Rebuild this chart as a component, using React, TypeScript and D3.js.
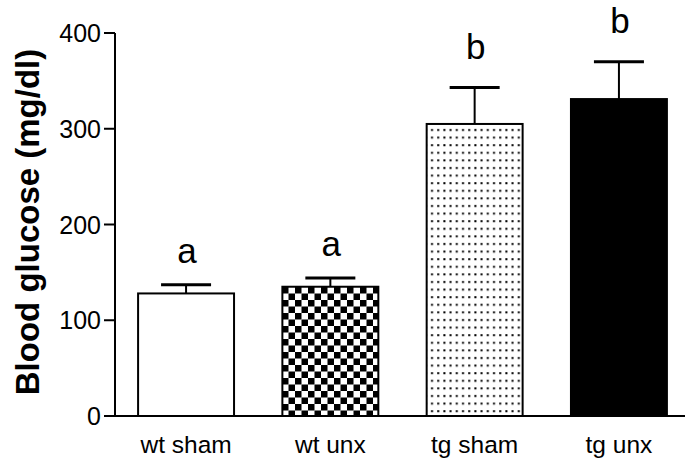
import React from "react";
import * as d3 from "d3";

// Group names, means, error (SEM) and significance letters
const groups = ["wt sham", "wt unx", "tg sham", "tg unx"];
const means = [128, 135, 305, 331];
const errors = [9, 9, 38, 39];
const letters = ["a", "a", "b", "b"];
const fills = ["white", "url(#checker)", "url(#dots)", "black"];
const yTicks = [0, 100, 200, 300, 400];

const W = 685;
const H = 459;
const axisX = 115;
const axisY0 = 416;
const axisTop = 33;

export default function App() {
  const y = d3.scaleLinear().domain([0, 400]).range([axisY0, axisTop]);
  const x = d3
    .scaleBand<string>()
    .domain(groups)
    .range([axisX, 690])
    .paddingInner(0.335)
    .paddingOuter(0.16);
  const bw = x.bandwidth();
  const capW = 50;
  const font = "'Liberation Sans', Arial, Helvetica, sans-serif";

  return (
    <svg
      width={W}
      height={H}
      style={{ position: "absolute", left: 0, top: 0, background: "white" }}
    >
      <defs>
        <pattern id="checker" patternUnits="userSpaceOnUse" width={13} height={13} x={282} y={287}>
          <rect width={13} height={13} fill="white" />
          <rect width={6.5} height={6.5} fill="black" />
          <rect x={6.5} y={6.5} width={6.5} height={6.5} fill="black" />
        </pattern>
        <pattern id="dots" patternUnits="userSpaceOnUse" width={6.2} height={7.6} x={429} y={126}>
          <rect width={6.2} height={7.6} fill="white" />
          <rect x={2} y={3} width={2} height={2} fill="black" />
        </pattern>
      </defs>

      {groups.map((g, i) => {
        const x0 = x(g)!;
        const cx = x0 + bw / 2;
        const top = y(means[i]);
        const errTop = y(means[i] + errors[i]);
        return (
          <g key={g}>
            <line x1={cx} x2={cx} y1={top} y2={errTop} stroke="black" strokeWidth={2} />
            <line x1={cx - capW / 2} x2={cx + capW / 2} y1={errTop} y2={errTop} stroke="black" strokeWidth={3} />
            <rect
              x={x0}
              y={top}
              width={bw}
              height={axisY0 - top}
              fill={fills[i]}
              stroke="black"
              strokeWidth={2}
            />
            <text
              x={cx + 1}
              y={errTop - (letters[i] === "a" ? 22 : 29)}
              textAnchor="middle"
              fontFamily={font}
              fontSize={35}
            >
              {letters[i]}
            </text>
            <text
              x={cx}
              y={453}
              textAnchor="middle"
              fontFamily={font}
              fontSize={24.5}
            >
              {g}
            </text>
          </g>
        );
      })}

      {/* axes */}
      <line x1={axisX} x2={axisX} y1={axisTop} y2={axisY0 + 1} stroke="black" strokeWidth={2} />
      <line x1={axisX - 1} x2={W} y1={axisY0} y2={axisY0} stroke="black" strokeWidth={2} />
      {yTicks.map((t) => (
        <g key={t}>
          <line x1={104} x2={axisX} y1={y(t)} y2={y(t)} stroke="black" strokeWidth={2} />
          <text
            x={101}
            y={y(t)}
            dy="0.36em"
            textAnchor="end"
            fontFamily={font}
            fontSize={25}
          >
            {t}
          </text>
        </g>
      ))}

      <text
        transform={`translate(39, 222) rotate(-90)`}
        textAnchor="middle"
        fontFamily={font}
        fontSize={33}
        fontWeight="bold"
      >
        Blood glucose (mg/dl)
      </text>
    </svg>
  );
}
